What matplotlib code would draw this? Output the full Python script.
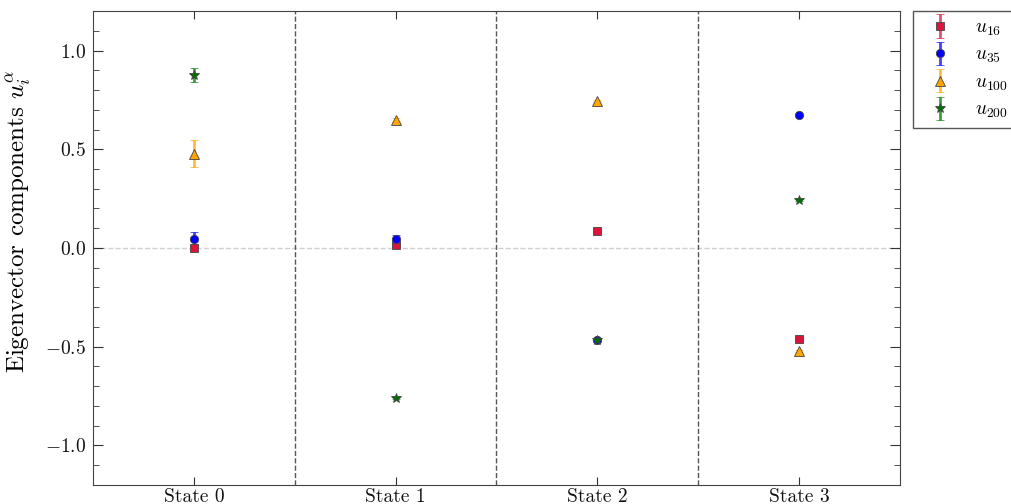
import matplotlib
matplotlib.use("Agg")
import matplotlib.pyplot as plt
import numpy as np
from matplotlib.colors import to_rgba
from matplotlib.legend_handler import HandlerErrorbar
from matplotlib.container import ErrorbarContainer

plt.rcParams['font.family'] = 'serif'
plt.rcParams['font.serif'] = ['cmr10']
plt.rcParams['mathtext.fontset'] = 'cm'
plt.rcParams['axes.formatter.use_mathtext'] = True

states = ["State 0", "State 1", "State 2", "State 3"]
labels = [r"$u_{16}$", r"$u_{35}$", r"$u_{100}$", r"$u_{200}$"]
u16 = [0.0, 0.015, 0.085, -0.46]
u16_err = [0.008, 0.006, 0.005, 0.005]
u35 = [0.043, 0.046, -0.465, 0.675]
u35_err = [0.036, 0.022, 0.005, 0.005]
u100 = [0.478, 0.65, 0.745, -0.52]
u100_err = [0.068, 0.006, 0.005, 0.005]
u200 = [0.878, -0.76, -0.465, 0.245]
u200_err = [0.036, 0.005, 0.005, 0.005]

series = [(u16, u16_err), (u35, u35_err), (u100, u100_err), (u200, u200_err)]
colors = ["#DC143C", "#0000FF", "#FFA500", "#007000"]
ecolors = ["#DC143C", "#0000FF", "#FFA500", "#008000"]
markers = ["s", "o", "^", "*"]
msizes = [6, 6, 7, 7]

fig = plt.figure(figsize=(10.11, 5.04), dpi=100)
ax = fig.add_axes([0.092, 0.038, 0.798, 0.940])

x = np.arange(len(states))
for (vals, errs), c, ec, m, ms, lab in zip(series, colors, ecolors, markers, msizes, labels):
    ax.errorbar(x, vals, yerr=errs, fmt=m, color=c, ecolor=to_rgba(ec, 0.75),
                elinewidth=2, capsize=3, capthick=1, markersize=ms,
                markeredgecolor="#444444", markeredgewidth=0.6,
                label=lab, zorder=3)

ax.axhline(0, color="#d0d0d0", linestyle="--", linewidth=1, zorder=1)
for b in [0.5, 1.5, 2.5]:
    ax.axvline(b, color="#555555", linestyle="--", linewidth=1, zorder=1)

ax.set_xlim(-0.5, 3.5)
ax.set_ylim(-1.2, 1.2)
ax.set_xticks(x)
ax.set_xticklabels(states)
ax.set_yticks([-1.0, -0.5, 0.0, 0.5, 1.0])
ax.set_yticks(np.arange(-1.1, 1.15, 0.1), minor=True)
ax.tick_params(axis='both', which='both', direction='in', top=True, right=True,
               labelsize=14, colors="#333333", labelcolor="#111111")
ax.tick_params(axis='y', which='major', length=7, pad=5)
ax.tick_params(axis='y', which='minor', length=4)
ax.tick_params(axis='x', which='major', length=6, pad=2)
ax.tick_params(axis='x', which='minor', bottom=False, top=False)
for s in ax.spines.values():
    s.set_color("#444444")
ax.set_ylabel(r"Eigenvector components $u_i^\alpha$", fontsize=18)
ax.yaxis.set_label_coords(-0.073, 0.555)

leg = ax.legend(loc="upper left", bbox_to_anchor=(1.016, 1.0), fontsize=14,
                fancybox=False, edgecolor="#555555", framealpha=1,
                borderpad=0.4, labelspacing=0.42, handlelength=2.0,
                handletextpad=0.8, borderaxespad=0,
                handler_map={ErrorbarContainer: HandlerErrorbar(yerr_size=0.6)})
leg.get_frame().set_linewidth(1)

fig.savefig("out.png", dpi=100)
